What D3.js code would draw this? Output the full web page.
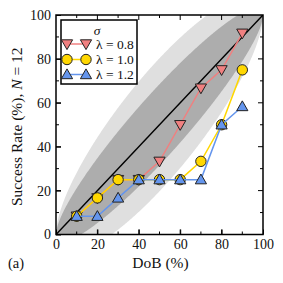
<!DOCTYPE html>
<html><head><meta charset="utf-8">
<script src="https://cdn.jsdelivr.net/npm/d3@7"></script>
<style>
body{margin:0;background:#fff;}
</style></head>
<body><svg id="c" width="283" height="283"></svg>
<script>
const dob = [10,20,30,40,50,60,70,80,90];
const lam08 = [8.33,16.67,25,25,33.33,50,66.67,75,91.67];
const lam10 = [8.33,16.67,25,25,25,25,33.33,50,75];
const lam12 = [8.33,8.33,16.67,25,25,25,25,50,58.33];
const seriesNames = ["\u03bb = 0.8","\u03bb = 1.0","\u03bb = 1.2"];
const xTicks = [0,20,40,60,80,100];
const yTicks = [0,20,40,60,80,100];
const Ntrials = 12;
const bandK = [1.28, 2.1];   // inner / outer band multipliers
const FONT = "'Liberation Serif','Times New Roman','DejaVu Serif',serif";

const svg = d3.select("#c");
const L=56, R=263, T=15, B=234.5;
const x = d3.scaleLinear().domain([0,100]).range([L,R]);
const y = d3.scaleLinear().domain([0,100]).range([B,T]);

svg.append("defs").append("clipPath").attr("id","clip")
  .append("rect").attr("x",L).attr("y",T).attr("width",R-L).attr("height",B-T);
const g = svg.append("g").attr("clip-path","url(#clip)");

const ps = d3.range(0,1.00001,0.0025);
function band(k){
  return d3.area()
    .x(p=>x(p*100))
    .y0(p=>y(Math.max(0,(p - k*Math.sqrt(p*(1-p)/Ntrials)))*100))
    .y1(p=>y(Math.min(1,(p + k*Math.sqrt(p*(1-p)/Ntrials)))*100))(ps);
}
g.append("path").attr("d",band(bandK[1])).attr("fill","#dfdfdf");
g.append("path").attr("d",band(bandK[0])).attr("fill","#adadad");
g.append("line").attr("x1",x(0)).attr("y1",y(0)).attr("x2",x(100)).attr("y2",y(100))
  .attr("stroke","#000").attr("stroke-width",1.5);

const series = [
  {vals:lam08,color:"#f08080",sym:"down"},
  {vals:lam10,color:"#ffd700",sym:"circle"},
  {vals:lam12,color:"#6495ed",sym:"up"}
];
function marker(sel,sym,color,cx,cy){
  if(sym==="circle"){
    sel.append("circle").attr("cx",cx).attr("cy",cy).attr("r",5.2)
      .attr("fill",color).attr("stroke","#222").attr("stroke-width",1);
  } else {
    const s=5.6;
    const pts = sym==="up"
      ? [[cx,cy-s],[cx+s,cy+s*0.75],[cx-s,cy+s*0.75]]
      : [[cx,cy+s],[cx+s,cy-s*0.75],[cx-s,cy-s*0.75]];
    sel.append("polygon").attr("points",pts.map(p=>p.join(",")).join(" "))
      .attr("fill",color).attr("stroke","#222").attr("stroke-width",1);
  }
}
const line = d3.line().x((d,i)=>x(dob[i])).y(d=>y(d));
const mg = svg.append("g");
series.forEach(s=>{
  mg.append("path").attr("d",line(s.vals)).attr("fill","none")
    .attr("stroke",s.color).attr("stroke-width",1.5);
  s.vals.forEach((v,i)=>marker(mg,s.sym,s.color,x(dob[i]),y(v)));
});

const ax = svg.append("g");
const xb = d3.axisBottom(x).tickValues(xTicks).tickSizeInner(-5).tickSizeOuter(0).tickPadding(5);
const yl = d3.axisLeft(y).tickValues(yTicks).tickSizeInner(-5).tickSizeOuter(0).tickPadding(5);
const gx = ax.append("g").attr("transform",`translate(0,${B})`).call(xb);
const gy = ax.append("g").attr("transform",`translate(${L},0)`).call(yl);
const minor = [10,30,50,70,90];
const gt = ax.append("g");
function ticks(vals,len){
  vals.forEach(v=>{
    gt.append("line").attr("x1",x(v)).attr("x2",x(v)).attr("y1",B).attr("y2",B-len);
    gt.append("line").attr("x1",x(v)).attr("x2",x(v)).attr("y1",T).attr("y2",T+len);
    gt.append("line").attr("y1",y(v)).attr("y2",y(v)).attr("x1",L).attr("x2",L+len);
    gt.append("line").attr("y1",y(v)).attr("y2",y(v)).attr("x1",R).attr("x2",R-len);
  });
}
ticks(minor,3); ticks(xTicks.slice(1,-1),5);
gt.selectAll("line").attr("stroke","#000").attr("stroke-width",1);
[gx,gy].forEach(a=>{a.select(".domain").remove();
  a.attr("font-family",null).attr("font-size",null);
  a.selectAll("text").style("font-family",FONT).style("font-size","14px").attr("fill","#111");
  a.selectAll("line").attr("stroke","#000");});
ax.append("rect").attr("x",L).attr("y",T).attr("width",R-L).attr("height",B-T)
  .attr("fill","none").attr("stroke","#000").attr("stroke-width",1.5);

function txt(sel){ return sel.style("font-family",FONT).style("font-size","15.5px").attr("fill","#111"); }
txt(svg.append("text").attr("x",(L+R)/2+1).attr("y",268).attr("text-anchor","middle")).text("DoB (%)");
txt(svg.append("text").attr("x",8).attr("y",268)).style("font-size","14.5px").text("(a)");
const yt = txt(svg.append("text").attr("transform",`translate(22,${(T+B)/2+2}) rotate(-90)`)
  .attr("text-anchor","middle"));
yt.append("tspan").text("Success Rate (%), ");
yt.append("tspan").attr("font-style","italic").text("N");
yt.append("tspan").text(" = 12");

const lg = svg.append("g");
lg.append("rect").attr("x",61).attr("y",20).attr("width",76).attr("height",64)
  .attr("fill","#fff").attr("stroke","#000").attr("stroke-width",1.5);
txt(lg.append("text").attr("x",97).attr("y",35).attr("text-anchor","middle")
  .attr("font-style","italic")).style("font-size","13.5px").text("\u03c3");
const ly = [44,59.5,74.5];
series.forEach((s,i)=>{
  lg.append("line").attr("x1",67).attr("x2",86).attr("y1",ly[i]).attr("y2",ly[i])
    .attr("stroke",s.color).attr("stroke-width",1.5);
  marker(lg,s.sym,s.color,67,ly[i]);
  marker(lg,s.sym,s.color,86,ly[i]);
  txt(lg.append("text").attr("x",96).attr("y",ly[i]+4.5)).style("font-size","13.5px").text(seriesNames[i]);
});
</script></body></html>
